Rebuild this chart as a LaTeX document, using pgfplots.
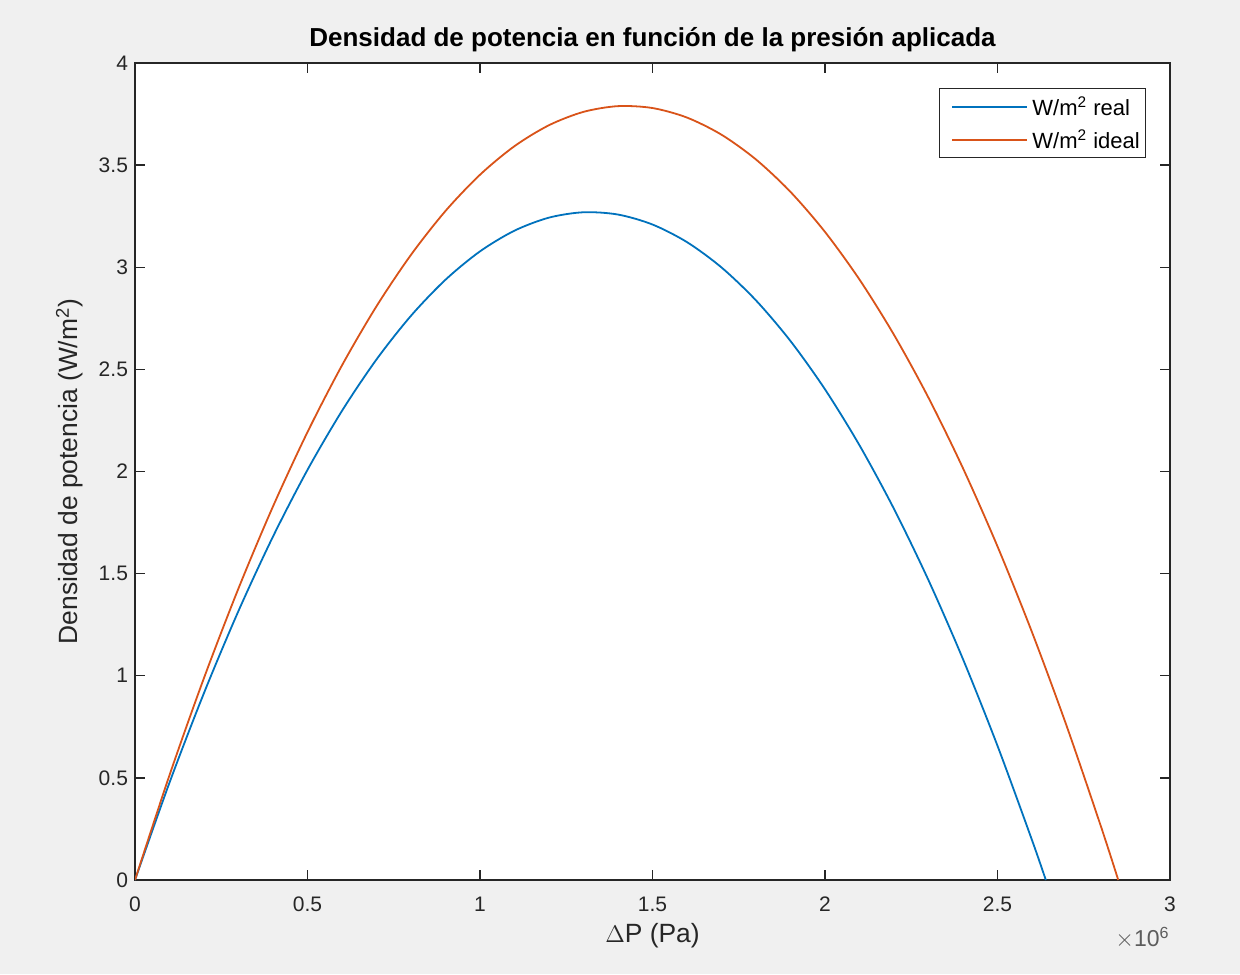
\documentclass[border=0pt]{standalone}
\usepackage{pgfplots}
\pgfplotsset{compat=1.18}
\usepackage{fontspec}
\setmainfont{Liberation Sans}
\definecolor{figbg}{RGB}{240,240,240}
\definecolor{axc}{RGB}{38,38,38}
\definecolor{mblue}{rgb}{0,0.447,0.741}
\definecolor{morange}{rgb}{0.85,0.325,0.098}
\begin{document}
\begin{tikzpicture}
\fill[figbg] (-67.5pt,-47pt) rectangle (552.5pt,440pt);
\begin{axis}[
  name=ax,
  at={(0,0)}, anchor=south west,
  scale only axis,
  width=517.5pt, height=408.5pt,
  xmin=0, xmax=3, ymin=0, ymax=4,
  xtick={0,0.5,...,3}, ytick={0,0.5,...,4},
  xticklabels={0,0.5,1,1.5,2,2.5,3},
  yticklabels={0,0.5,1,1.5,2,2.5,3,3.5,4},
  tick align=inside,
  major tick length=5pt,
  axis line style={axc, line width=0.7pt},
  every tick/.style={axc, line width=0.7pt},
  axis background/.style={fill=white},
  tick label style={font=\fontsize{10.5}{12}\selectfont, text=axc},
  xticklabel style={yshift=-5pt},
  /pgf/number format/assume math mode=true,
  xlabel={$\Delta$P (Pa)},
  ylabel={Densidad de potencia (W/m\textsuperscript{2})},
  label style={font=\fontsize{13.2}{15}\selectfont, text=axc},
  xlabel style={yshift=1pt},
  ylabel style={yshift=1pt},
  title={\bfseries Densidad de potencia en función de la presión aplicada},
  title style={font=\fontsize{13}{15}\selectfont, yshift=-4pt},
]
\addplot[mblue, line width=0.9pt, smooth] coordinates {
(0,0) (0.1,0.4767) (0.2,0.9158) (0.3,1.3175) (0.4,1.6815) (0.5,2.0081)
(0.6,2.2971) (0.7,2.5486) (0.8,2.7625) (0.9,2.9389) (1.0,3.0778)
(1.1,3.1792) (1.2,3.2430) (1.3,3.2692) (1.4,3.2580) (1.5,3.2092)
(1.6,3.1229) (1.7,2.9990) (1.8,2.8376) (1.9,2.6387) (2.0,2.4022)
(2.1,2.1282) (2.2,1.8167) (2.3,1.4676) (2.4,1.0810) (2.5,0.6569)
(2.6,0.1952) (2.64,0)};
\addplot[morange, line width=0.9pt, smooth] coordinates {
(0,0) (0.1,0.5133) (0.2,0.9892) (0.3,1.4278) (0.4,1.8291) (0.5,2.1930)
(0.6,2.5197) (0.7,2.8090) (0.8,3.0609) (0.9,3.2756) (1.0,3.4529)
(1.1,3.5929) (1.2,3.6955) (1.3,3.7608) (1.4,3.7888) (1.5,3.7795)
(1.6,3.7328) (1.7,3.6489) (1.8,3.5275) (1.9,3.3689) (2.0,3.1729)
(2.1,2.9396) (2.2,2.6690) (2.3,2.3610) (2.4,2.0157) (2.5,1.6331)
(2.6,1.2132) (2.7,0.7559) (2.8,0.2613) (2.85,0)};
\end{axis}
% legend
\node[draw=axc, line width=0.6pt, fill=white, anchor=north east, inner sep=0pt,
  minimum width=103pt, minimum height=34.5pt]
  at ([xshift=-12pt,yshift=-12.5pt]ax.north east) {};
\draw[mblue, line width=0.9pt] ([xshift=-109pt,yshift=-22pt]ax.north east) -- ([xshift=-71.5pt,yshift=-22pt]ax.north east);
\draw[morange, line width=0.9pt] ([xshift=-109pt,yshift=-38.5pt]ax.north east) -- ([xshift=-71.5pt,yshift=-38.5pt]ax.north east);
\node[anchor=west, inner sep=0pt, font=\fontsize{11}{13}\selectfont, text=black]
  at ([xshift=-69pt,yshift=-21.5pt]ax.north east) {W/m\textsuperscript{2} real};
\node[anchor=west, inner sep=0pt, font=\fontsize{11}{13}\selectfont, text=black]
  at ([xshift=-69pt,yshift=-38pt]ax.north east) {W/m\textsuperscript{2} ideal};
\node[anchor=east, text=axc!75, font=\fontsize{11.5}{13}\selectfont, inner sep=0pt]
  at ([yshift=-29pt,xshift=0pt]ax.south east) {$\times$10\textsuperscript{6}};
\end{tikzpicture}
\end{document}
